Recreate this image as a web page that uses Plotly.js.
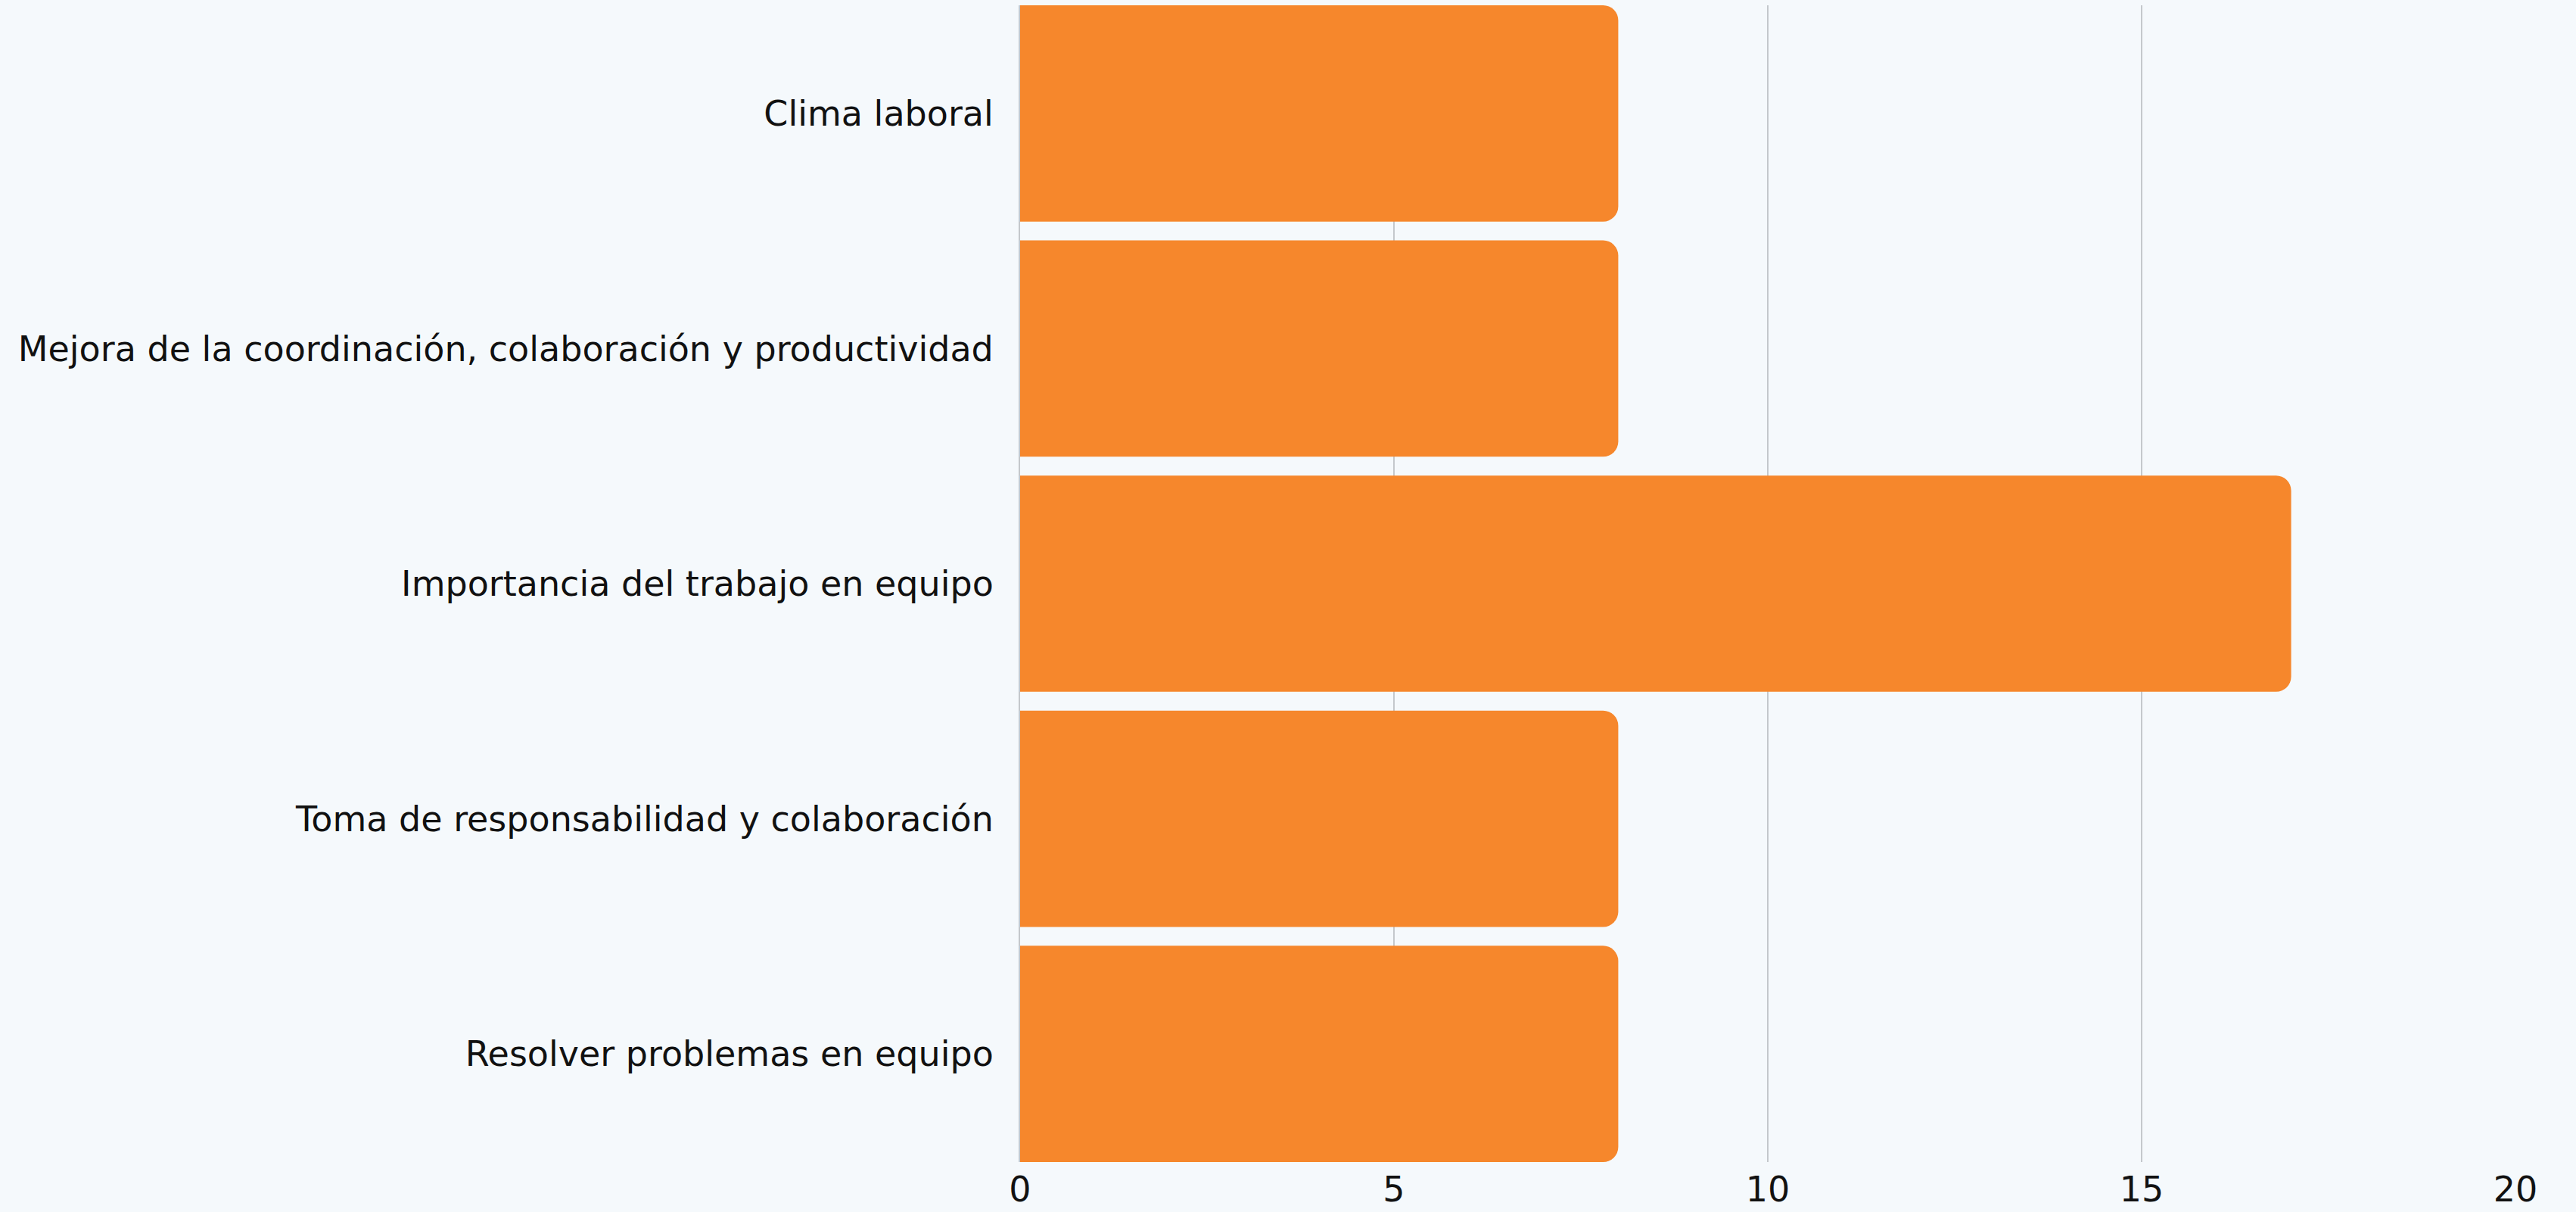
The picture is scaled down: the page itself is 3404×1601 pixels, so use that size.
<!DOCTYPE html>
<html>
<head>
<meta charset="utf-8">
<script src="https://cdn.plot.ly/plotly-3.0.1.min.js"></script>
<style>html,body{margin:0;padding:0;background:#F5F9FC;}#chart{width:3404px;height:1601px;}</style>
</head>
<body>
<div id="chart"></div>
<script>
const categories = [
  "Clima laboral",
  "Mejora de la coordinación, colaboración y productividad",
  "Importancia del trabajo en equipo",
  "Toma de responsabilidad y colaboración",
  "Resolver problemas en equipo"
];
const values = [8, 8, 17, 8, 8];
const xTicks = [0, 5, 10, 15, 20];

const trace = {
  type: 'bar',
  orientation: 'h',
  y: categories,
  x: values,
  marker: {color: '#F6872C', cornerradius: 20, line: {width: 0}},
  hoverinfo: 'none'
};

const layout = {
  width: 3404,
  height: 1601,
  paper_bgcolor: '#F5F9FC',
  plot_bgcolor: '#F5F9FC',
  margin: {l: 1348, r: 80, t: 7, b: 66},
  bargap: 0.08,
  font: {family: '"DejaVu Sans", sans-serif', size: 46, color: '#111111'},
  showlegend: false,
  xaxis: {
    range: [0, 20],
    tickvals: xTicks,
    ticktext: xTicks.map(String),
    showgrid: true,
    gridcolor: '#C4C8CC',
    gridwidth: 2,
    zeroline: false,
    showline: false,
    ticks: '',
    ticklabelstandoff: 5
  },
  yaxis: {
    range: [4.46, -0.46],
    showgrid: false,
    zeroline: false,
    showline: true,
    linecolor: '#C4C8CC',
    linewidth: 2,
    ticks: '',
    ticklabelstandoff: 24
  }
};

Plotly.newPlot('chart', [trace], layout, {displayModeBar: false, staticPlot: true});
</script>
</body>
</html>
